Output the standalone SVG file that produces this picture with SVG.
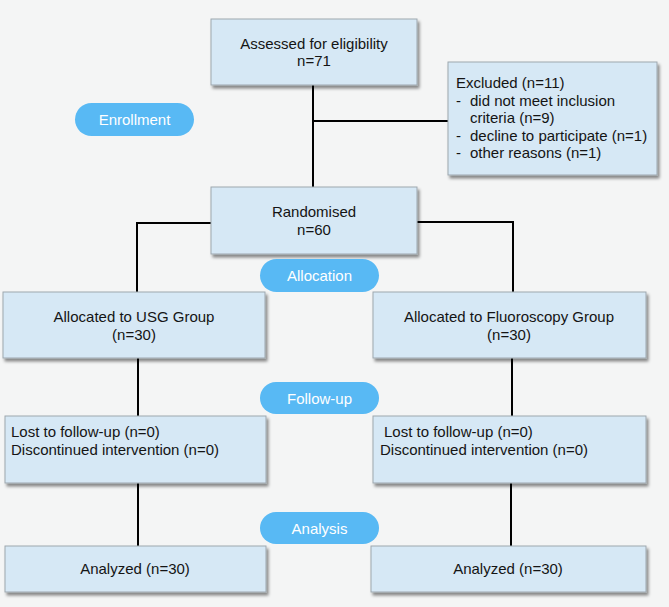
<svg xmlns="http://www.w3.org/2000/svg" width="669" height="607" viewBox="0 0 669 607">
<defs>
<filter id="sh" x="-10%" y="-10%" width="130%" height="140%">
<feDropShadow dx="2" dy="3" stdDeviation="1.8" flood-color="#000" flood-opacity="0.45"/>
</filter>
<style>
.box{fill:#d6e8f5;stroke:#9ea7ae;stroke-width:1;filter:url(#sh);}
.pill{fill:#58b9f4;}
.t{font-family:"Liberation Sans",Arial,sans-serif;font-size:15px;fill:#141414;}
.c{text-anchor:middle;}
.p{font-family:"Liberation Sans",Arial,sans-serif;font-size:15px;fill:#ffffff;text-anchor:middle;}
.ln{fill:none;stroke:#000;stroke-width:2;}
</style>
</defs>
<rect width="669" height="607" fill="#f4f5f5"/>
<g id="connectors">
<path class="ln" d="M313,85 V188"/>
<path class="ln" d="M313,121 H448"/>
<path class="ln" d="M211,223 H137 V292"/>
<path class="ln" d="M417,222 H513 V292"/>
<path class="ln" d="M138,358 V416"/>
<path class="ln" d="M512,358 V416"/>
<path class="ln" d="M138,483 V546"/>
<path class="ln" d="M511,483 V546"/>
</g>
<g id="assessed">
<rect class="box" x="211" y="19" width="206" height="66"/>
<text class="t c" x="314" y="49">Assessed for eligibility</text>
<text class="t c" x="314" y="66">n=71</text>
</g>
<g id="excluded">
<rect class="box" x="448" y="62" width="209" height="113"/>
<text class="t" x="456" y="88">Excluded (n=11)</text>
<text class="t" x="456" y="106">-</text>
<text class="t" x="470" y="106">did not meet inclusion</text>
<text class="t" x="470" y="123">criteria (n=9)</text>
<text class="t" x="456" y="141">-</text>
<text class="t" x="470" y="141">decline to participate (n=1)</text>
<text class="t" x="456" y="158">-</text>
<text class="t" x="470" y="158">other reasons (n=1)</text>
</g>
<g id="enrollment">
<rect class="pill" x="75" y="103" width="119" height="33" rx="16.5"/>
<text class="p" x="134.5" y="125">Enrollment</text>
</g>
<g id="randomised">
<rect class="box" x="211" y="187" width="206" height="67"/>
<text class="t c" x="314" y="217">Randomised</text>
<text class="t c" x="314" y="235">n=60</text>
</g>
<g id="allocation">
<rect class="pill" x="260" y="259" width="119" height="33" rx="16.5"/>
<text class="p" x="319.5" y="281">Allocation</text>
</g>
<g id="alloc-usg">
<rect class="box" x="3" y="292" width="262" height="66"/>
<text class="t c" x="134" y="322">Allocated to USG Group</text>
<text class="t c" x="134" y="340">(n=30)</text>
</g>
<g id="alloc-fluoro">
<rect class="box" x="373" y="292" width="273" height="66"/>
<text class="t c" x="509" y="322">Allocated to Fluoroscopy Group</text>
<text class="t c" x="509" y="340">(n=30)</text>
</g>
<g id="followup">
<rect class="pill" x="260" y="382" width="119" height="32" rx="16"/>
<text class="p" x="319.5" y="403.5">Follow-up</text>
</g>
<g id="lost-usg">
<rect class="box" x="5" y="416" width="261" height="67"/>
<text class="t" x="11" y="437">Lost to follow-up (n=0)</text>
<text class="t" x="11" y="455">Discontinued intervention (n=0)</text>
</g>
<g id="lost-fluoro">
<rect class="box" x="373" y="416" width="273" height="67"/>
<text class="t" x="384" y="437">Lost to follow-up (n=0)</text>
<text class="t" x="380" y="455">Discontinued intervention (n=0)</text>
</g>
<g id="analysis">
<rect class="pill" x="260" y="512" width="119" height="32" rx="16"/>
<text class="p" x="319.5" y="533.5">Analysis</text>
</g>
<g id="analyzed-usg">
<rect class="box" x="5" y="546" width="261" height="46"/>
<text class="t c" x="135" y="574">Analyzed (n=30)</text>
</g>
<g id="analyzed-fluoro">
<rect class="box" x="371" y="546" width="275" height="46"/>
<text class="t c" x="508" y="574">Analyzed (n=30)</text>
</g>
</svg>
